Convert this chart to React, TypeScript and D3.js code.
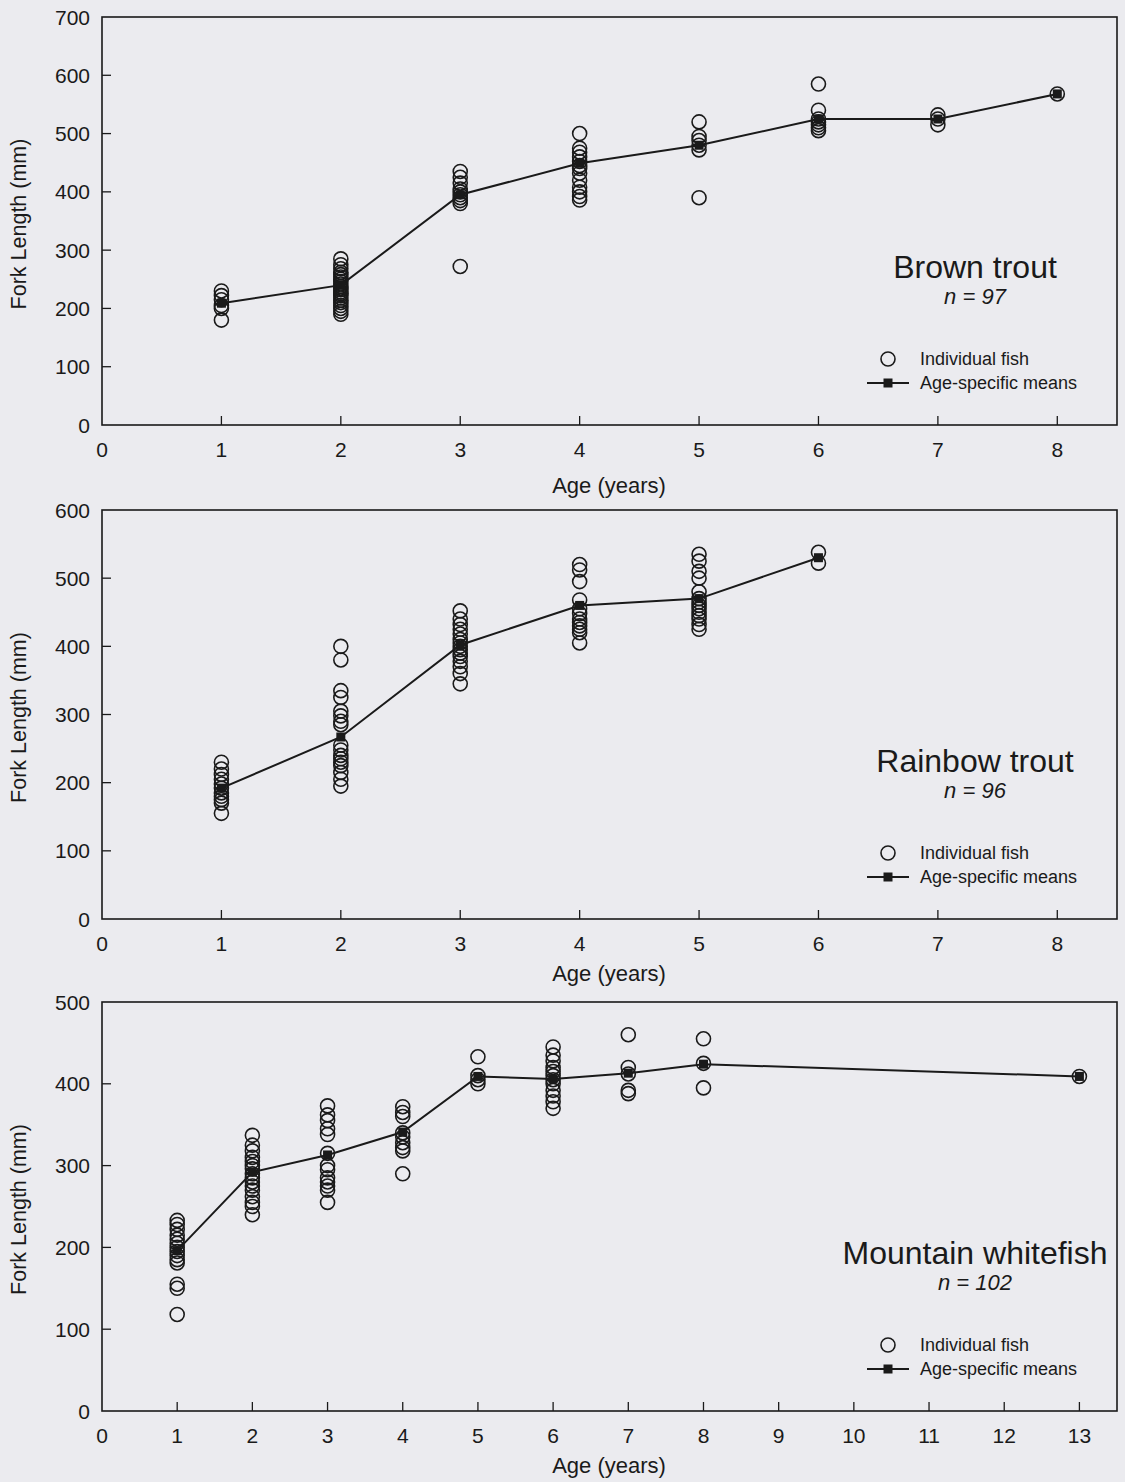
import React, { useEffect, useRef } from "react";
import * as d3 from "d3";

// Fork length (mm) of individual fish by age, and age-specific means
const brownAges = [1, 2, 3, 4, 5, 6, 7, 8];
const brownFish = [
  [230, 222, 215, 205, 200, 180],
  [285, 275, 268, 262, 258, 254, 250, 246, 242, 238, 235, 232, 228, 225, 222, 218, 214, 210, 205, 200, 195, 190],
  [435, 425, 415, 405, 400, 395, 390, 385, 380, 272],
  [500, 475, 468, 460, 452, 445, 440, 432, 420, 408, 400, 392, 386],
  [520, 495, 488, 480, 472, 390],
  [585, 540, 525, 520, 515, 510, 505],
  [532, 525, 515],
  [568],
];
const brownMeans = [209, 240, 395, 449, 480, 525, 525, 568];

const rainbowAges = [1, 2, 3, 4, 5, 6];
const rainbowFish = [
  [230, 220, 212, 205, 198, 192, 185, 180, 175, 170, 155],
  [400, 380, 335, 325, 305, 298, 290, 285, 255, 248, 240, 235, 230, 225, 215, 205, 195],
  [452, 440, 432, 425, 418, 410, 405, 400, 395, 390, 385, 378, 370, 360, 345],
  [520, 512, 495, 468, 455, 448, 440, 435, 430, 425, 420, 405],
  [535, 525, 510, 500, 480, 470, 465, 460, 455, 450, 445, 440, 432, 425],
  [538, 522],
];
const rainbowMeans = [192, 267, 402, 460, 470, 530];

const whitefishAges = [1, 2, 3, 4, 5, 6, 7, 8, 13];
const whitefishFish = [
  [233, 228, 222, 215, 210, 205, 200, 195, 190, 185, 181, 155, 150, 118],
  [337, 325, 318, 310, 305, 300, 296, 290, 285, 280, 275, 270, 262, 255, 250, 240],
  [373, 362, 355, 345, 338, 315, 300, 295, 285, 280, 275, 270, 255],
  [372, 365, 360, 340, 335, 328, 322, 318, 290],
  [433, 410, 405, 400],
  [445, 435, 428, 420, 415, 410, 405, 400, 392, 385, 378, 370],
  [460, 420, 412, 392, 388],
  [455, 425, 395],
  [409],
];
const whitefishMeans = [196, 292, 313, 341, 409, 406, 413, 424, 409];

const brownXTicks = [0, 1, 2, 3, 4, 5, 6, 7, 8];
const whitefishXTicks = [0, 1, 2, 3, 4, 5, 6, 7, 8, 9, 10, 11, 12, 13];

const FONT = "'Liberation Sans', Arial, sans-serif";
const INK = "#1a1a1a";

type PanelProps = {
  top: number;
  bottom: number;
  yMax: number;
  yStep: number;
  xMax: number;
  xTicks: number[];
  titleGap: number;
  ages: number[];
  fish: number[][];
  means: number[];
  species: string;
  n: string;
};

const LEFT = 102;
const RIGHT = 1117;

function Panel({ top, bottom, yMax, yStep, xMax, xTicks, titleGap, ages, fish, means, species, n }: PanelProps) {
  const ref = useRef<SVGGElement>(null);

  useEffect(() => {
    const g = d3.select(ref.current);
    g.selectAll("*").remove();

    const lastTick = xTicks[xTicks.length - 1];
    const tickRight = LEFT + ((RIGHT - LEFT) * lastTick) / xMax;
    const x = d3.scaleLinear().domain([0, lastTick]).range([LEFT, tickRight]);
    const y = d3.scaleLinear().domain([0, yMax]).range([bottom, top]);

    // frame
    g.append("rect")
      .attr("x", LEFT)
      .attr("y", top)
      .attr("width", RIGHT - LEFT)
      .attr("height", bottom - top)
      .attr("fill", "none")
      .attr("stroke", INK)
      .attr("stroke-width", 1.6);

    // y axis: inward ticks, labels on the left
    const yTicks = d3.range(0, yMax + 1, yStep);
    yTicks.forEach((v) => {
      if (v > 0 && v < yMax) {
        g.append("line")
          .attr("x1", LEFT)
          .attr("x2", LEFT + 9)
          .attr("y1", y(v))
          .attr("y2", y(v))
          .attr("stroke", INK)
          .attr("stroke-width", 1.3);
      }
      g.append("text")
        .attr("x", LEFT - 12)
        .attr("y", y(v))
        .attr("dy", "0.36em")
        .attr("text-anchor", "end")
        .attr("font-family", FONT)
        .attr("font-size", 21)
        .attr("fill", INK)
        .text(v);
    });

    // x axis: inward ticks, labels below
    xTicks.forEach((v) => {
      if (v > 0) {
        g.append("line")
          .attr("x1", x(v))
          .attr("x2", x(v))
          .attr("y1", bottom)
          .attr("y2", bottom - 9)
          .attr("stroke", INK)
          .attr("stroke-width", 1.3);
      }
      g.append("text")
        .attr("x", x(v))
        .attr("y", bottom + 32)
        .attr("text-anchor", "middle")
        .attr("font-family", FONT)
        .attr("font-size", 21)
        .attr("fill", INK)
        .text(v);
    });

    g.append("text")
      .attr("x", 609)
      .attr("y", bottom + titleGap)
      .attr("text-anchor", "middle")
      .attr("font-family", FONT)
      .attr("font-size", 22)
      .attr("fill", INK)
      .text("Age (years)");

    g.append("text")
      .attr("transform", `translate(26,${(top + bottom) / 2 + 3}) rotate(-90)`)
      .attr("text-anchor", "middle")
      .attr("font-family", FONT)
      .attr("font-size", 21.5)
      .attr("fill", INK)
      .text("Fork Length (mm)");

    // individual fish
    const pts: [number, number][] = [];
    ages.forEach((a, i) => fish[i].forEach((v) => pts.push([a, v])));
    g.append("g")
      .selectAll("circle")
      .data(pts)
      .join("circle")
      .attr("cx", (d) => x(d[0]))
      .attr("cy", (d) => y(d[1]))
      .attr("r", 7)
      .attr("fill", "none")
      .attr("stroke", INK)
      .attr("stroke-width", 1.6);

    // age-specific means
    const meanPts: [number, number][] = ages.map((a, i) => [a, means[i]]);
    const line = d3
      .line<[number, number]>()
      .x((d) => x(d[0]))
      .y((d) => y(d[1]));
    g.append("path")
      .attr("d", line(meanPts))
      .attr("fill", "none")
      .attr("stroke", INK)
      .attr("stroke-width", 2);
    g.append("g")
      .selectAll("rect")
      .data(meanPts)
      .join("rect")
      .attr("x", (d) => x(d[0]) - 4.5)
      .attr("y", (d) => y(d[1]) - 4.5)
      .attr("width", 9)
      .attr("height", 9)
      .attr("fill", INK);

    // species label
    const labelY = bottom - 147;
    g.append("text")
      .attr("x", 975)
      .attr("y", labelY)
      .attr("text-anchor", "middle")
      .attr("font-family", FONT)
      .attr("font-size", 32)
      .attr("fill", INK)
      .text(species);
    g.append("text")
      .attr("x", 975)
      .attr("y", labelY + 26)
      .attr("text-anchor", "middle")
      .attr("font-family", FONT)
      .attr("font-style", "italic")
      .attr("font-size", 22)
      .attr("fill", INK)
      .text(`n = ${n}`);

    // legend
    const ly1 = bottom - 66;
    const ly2 = bottom - 42;
    g.append("circle")
      .attr("cx", 888)
      .attr("cy", ly1)
      .attr("r", 7)
      .attr("fill", "none")
      .attr("stroke", INK)
      .attr("stroke-width", 1.6);
    g.append("text")
      .attr("x", 920)
      .attr("y", ly1)
      .attr("dy", "0.36em")
      .attr("font-family", FONT)
      .attr("font-size", 18)
      .attr("fill", INK)
      .text("Individual fish");
    g.append("line")
      .attr("x1", 867)
      .attr("x2", 909)
      .attr("y1", ly2)
      .attr("y2", ly2)
      .attr("stroke", INK)
      .attr("stroke-width", 2);
    g.append("rect")
      .attr("x", 888 - 4.5)
      .attr("y", ly2 - 4.5)
      .attr("width", 9)
      .attr("height", 9)
      .attr("fill", INK);
    g.append("text")
      .attr("x", 920)
      .attr("y", ly2)
      .attr("dy", "0.36em")
      .attr("font-family", FONT)
      .attr("font-size", 18)
      .attr("fill", INK)
      .text("Age-specific means");
  }, [top, bottom, yMax, yStep, xMax, xTicks, titleGap, ages, fish, means, species, n]);

  return <g ref={ref} />;
}

export default function App() {
  return (
    <svg
      width={1125}
      height={1482}
      style={{ position: "absolute", left: 0, top: 0, display: "block" }}
    >
      <rect x={0} y={0} width={1125} height={1482} fill="#ebebef" />
      <Panel
        top={17}
        bottom={425}
        yMax={700}
        yStep={100}
        xMax={8.5}
        xTicks={brownXTicks}
        titleGap={68}
        ages={brownAges}
        fish={brownFish}
        means={brownMeans}
        species="Brown trout"
        n="97"
      />
      <Panel
        top={510}
        bottom={919}
        yMax={600}
        yStep={100}
        xMax={8.5}
        xTicks={brownXTicks}
        titleGap={62}
        ages={rainbowAges}
        fish={rainbowFish}
        means={rainbowMeans}
        species="Rainbow trout"
        n="96"
      />
      <Panel
        top={1002}
        bottom={1411}
        yMax={500}
        yStep={100}
        xMax={13.5}
        xTicks={whitefishXTicks}
        titleGap={62}
        ages={whitefishAges}
        fish={whitefishFish}
        means={whitefishMeans}
        species="Mountain whitefish"
        n="102"
      />
    </svg>
  );
}
